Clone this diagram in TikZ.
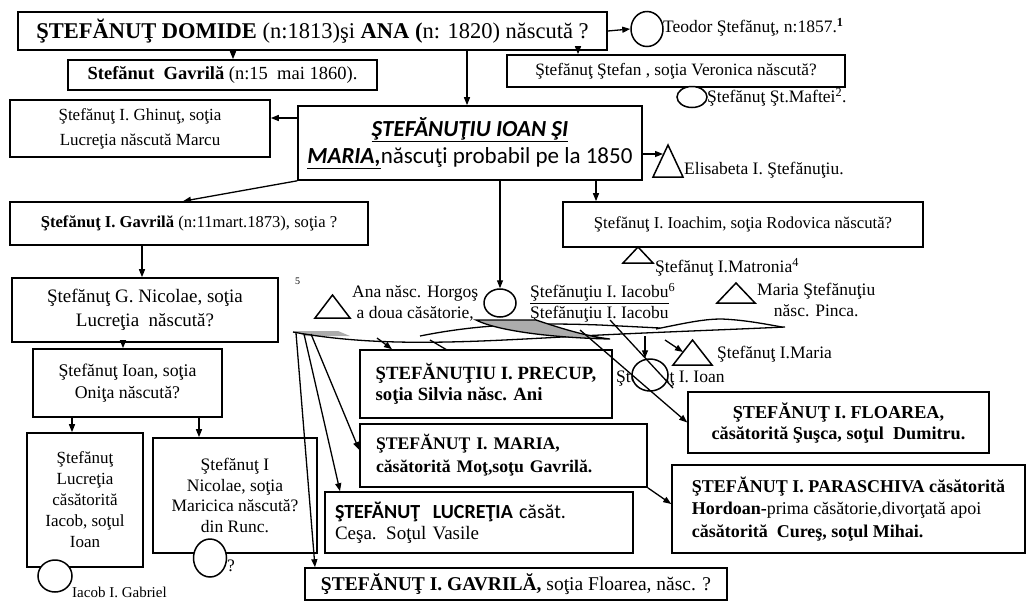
\documentclass[tikz,border=0pt]{standalone}
\usepackage{fontspec}
\setmainfont{Liberation Serif}
\newfontfamily\calib{Carlito}
\usetikzlibrary{arrows.meta,shapes.geometric,calc}
\newcommand\fsz[2]{\fontsize{#1}{#2}\selectfont}
\begin{document}
\begin{tikzpicture}[x=1pt,y=-1pt,
 bx/.style={draw,line width=1.6pt,inner sep=2pt,align=center,font=\fsz{16}{22}},
 circ/.style={draw,ellipse,line width=1.5pt,inner sep=0pt,fill=white},
 tri/.style={draw,line width=1.5pt,line join=miter},
 arr/.style={line width=1.3pt,-{Triangle[length=8pt,width=6pt]}},
 ln/.style={line width=1.3pt},
 lbl/.style={inner sep=0pt,anchor=west,font=\fsz{17.5}{21}}]
\useasboundingbox (0,0) rectangle (1027,606);
\fill[white] (0,0) rectangle (1027,606);

% ---------- boxes ----------
\node[bx,minimum width=589pt,minimum height=38pt,font=\fsz{22.5}{24}] (A) at (312.5,31)
 {\textbf{ŞTEFĂNUŢ DOMIDE} (n:1813)şi \textbf{ANA (}n: 1820) născută ?};
\node[bx,minimum width=309pt,minimum height=30pt,font=\fsz{18.5}{22}] (B) at (222.5,75)
 {\textbf{Stefănut\ \ Gavrilă} (n:15\ \ mai 1860).};
\node[bx,minimum width=338pt,minimum height=32pt,font=\fsz{17.3}{22}] (C) at (676,71)
 {Ştefănuţ Ştefan , soţia Veronica născută?};
\node[bx,minimum width=344pt,minimum height=74pt,font=\calib\fsz{23}{27}] (D) at (470,143)
 {\textbf{\textit{\underline{ŞTEFĂNUŢIU IOAN ŞI}}}\\\textbf{\textit{\underline{MARIA,}}}născuţi probabil pe la 1850};
\node[bx,minimum width=260pt,minimum height=57pt,font=\fsz{17}{25}] (E) at (140,128.5)
 {Ştefănuţ I. Ghinuţ, soţia\\Lucreţia născută Marcu};
\node[bx,minimum width=360pt,minimum height=45pt,font=\fsz{16.7}{22}] (F) at (743,224.5)
 {Ştefănuţ I. Ioachim, soţia Rodovica născută?};
\node[bx,minimum width=358pt,minimum height=43pt,font=\fsz{16.6}{22}] (G) at (189,223.5)
 {\textbf{Ştefănuţ I. Gavrilă} (n:11mart.1873), soţia ?};
\node[bx,minimum width=266pt,minimum height=64pt,font=\fsz{19}{24}] (H) at (145,310)
 {Ştefănuţ G. Nicolae, soţia\\Lucreţia\ \ născută?};
\node[bx,minimum width=189pt,minimum height=68pt,font=\fsz{17.8}{22}] (I) at (127.5,383)
 {Ştefănuţ Ioan, soţia\\Oniţa născută?};
\node[bx,minimum width=116pt,minimum height=134pt,font=\fsz{17}{21}] (J) at (85,500)
 {Ştefănuţ\\Lucreţia\\căsătorită\\Iacob, soţul\\Ioan};
\node[bx,minimum width=164pt,minimum height=115pt,font=\fsz{17.5}{20.5}] (K) at (235,495.5)
 {Ştefănuţ I\\Nicolae, soţia\\Maricica născută?\\din Runc.};
\node[bx,align=left,minimum width=252pt,minimum height=68pt,font=\bfseries\fsz{18.7}{21}] (L) at (486,384)
 {ŞTEFĂNUŢIU I. PRECUP,\\soţia Silvia născ. Ani};
\node[bx,align=left,inner xsep=16pt,text width=255pt,minimum height=63pt,font=\bfseries\fsz{17.7}{23}] (Mm) at (503.5,455.5)
 {ŞTEFĂNUŢ I. MARIA,\\căsătorită Moţ,soţu Gavrilă.};
\node[bx,align=left,inner xsep=10pt,text width=288pt,minimum height=61pt,font=\fsz{19}{21}] (Lu) at (479,522.5)
 {{\calib\fsz{20}{21}\textbf{ŞTEFĂNUŢ\ \ LUCREŢIA} căsăt.}\\Ceşa. Soţul Vasile};
\node[bx,minimum width=422pt,minimum height=32pt,font=\fsz{19.5}{22}] (N) at (516,584)
 {\textbf{ŞTEFĂNUŢ I. GAVRILĂ,} soţia Floarea, născ. ?};
\node[bx,minimum width=301pt,minimum height=61pt,font=\bfseries\fsz{18.2}{21}] (Fl) at (838.5,422.5)
 {ŞTEFĂNUŢ I. FLOAREA,\\căsătorită Şuşca, soţul\ \ Dumitru.};
\node[bx,align=left,minimum width=353pt,minimum height=88pt,font=\fsz{18}{22.5}] (P) at (848.5,509)
 {\textbf{ŞTEFĂNUŢ I. PARASCHIVA căsătorită}\\\textbf{Hordoan-}prima căsătorie,divorţată apoi\\\textbf{căsătorită\ \ Cureş, soţul Mihai.}};

% ---------- labels ----------
\node[lbl] (l1) at (663,27) {Teodor Ştefănuţ, n:1857.\textsuperscript{\textbf{1}}};
\node[lbl] (l2) at (707,97) {Ştefănuţ Şt.Maftei\textsuperscript{2}.};
\node[lbl] (l3) at (684,170) {Elisabeta I. Ştefănuţiu.};
\node[lbl] (l4) at (655,267) {Ştefănuţ I.Matronia\textsuperscript{4}};
\node[lbl,font=\fsz{10}{12}] (l5) at (295,281) {5};
\node[lbl,align=center] (l6) at (352,303) {Ana născ. Horgoş\\a doua căsătorie,};
\node[lbl,align=left] (l7) at (530,303) {\underline{Ştefănuţiu I. Iacobu}\textsuperscript{6}\\Ştefănuţiu I. Iacobu};
\node[lbl,align=center] (l8) at (757,300) {Maria Ştefănuţiu\\născ. Pinca.};
\node[lbl] (l9) at (717,354) {Ştefănuţ I.Maria};
\node[lbl] (l10) at (616,378) {Ştefănuţ I. Ioan};
\node[lbl,font=\fsz{15}{18}] (l11) at (72,592) {Iacob I. Gabriel};
\node[lbl] (l12) at (227,566) {?};

% ---------- circles ----------
\node[circ,minimum width=32pt,minimum height=35pt] (c1) at (647,29) {};
\node[circ,minimum width=30pt,minimum height=21pt] (c2) at (692,97) {};
\node[circ,minimum width=32pt,minimum height=28pt] (c3) at (500,303) {};
\node[circ,minimum width=36pt,minimum height=32pt] (c4) at (650,375) {};
\node[circ,minimum width=34pt,minimum height=32pt] (c5) at (55,576) {};
\node[circ,minimum width=33pt,minimum height=38pt] (c6) at (210,558) {};

% ---------- triangles ----------
\draw[tri] (653,177) -- (668,145) -- (683,177) -- cycle;
\draw[tri] (623,263) -- (638,247) -- (653,263) -- cycle;
\draw[tri] (315,318) -- (332.5,295) -- (350,318) -- cycle;
\draw[tri] (717,303) -- (736,283) -- (755,303) -- cycle;
\draw[tri] (673,365) -- (692.5,340) -- (712,365) -- cycle;
\coordinate (t1) at (663,154);
\coordinate (t5) at (683,352);

% ---------- helper coordinates ----------
\coordinate (xAB) at (233,0);
\coordinate (xAC) at (578,0);
\coordinate (xAD) at (467,0);
\coordinate (yDE) at (0,118);
\coordinate (xDF) at (596,0);
\coordinate (xDG) at (183,0);
\coordinate (xGH) at (142,0);
\coordinate (xHI) at (123,0);
\coordinate (xIJ) at (72,0);
\coordinate (xIK) at (199,0);
\coordinate (xN) at (315,0);
\coordinate (xLu) at (340,0);
\coordinate (yM) at (0,450);
\coordinate (xL) at (392,0);
\coordinate (yMP) at (0,504);
\coordinate (h1) at (296,333);
\coordinate (h2) at (304,334);
\coordinate (h3) at (311,334);
\coordinate (hL) at (377,338);
\coordinate (hI) at (645,336);
\coordinate (hM) at (665,340);
\coordinate (hF) at (580,330);
\coordinate (jq) at (610,320);
\coordinate (jq2) at (673,388);

% ---------- connectors ----------
\draw[arr] (A.south -| xAB) -- (B.north -| xAB);
\draw[arr] (A.south -| xAC) -- (C.north -| xAC);
\draw[arr] (A.south -| xAD) -- (D.north -| xAD);
\draw[arr] (A.east) -- (c1.west);
\draw[arr] (D.west |- yDE) -- (E.east |- yDE);
\draw[arr] (D.east |- t1) -- (t1);
\draw[arr] (D.south -| xDF) -- (F.north -| xDF);
\draw[arr] (D.south west) -- (G.north -| xDG);
\draw[arr] (D.south -| c3) -- (c3.north);
\draw[arr] (G.south -| xGH) -- (H.north -| xGH);
\draw[arr] (H.south -| xHI) -- (I.north -| xHI);
\draw[arr] (I.south -| xIJ) -- (J.north -| xIJ);
\draw[arr] (I.south -| xIK) -- (K.north -| xIK);

% ribbon (merged connectors)
\fill[gray!65] (293,331) -- (338,331) -- (350,336) -- (305,336) -- cycle;
\draw[ln] (293,332) .. controls (380,348) and (470,342) .. (580,336) .. controls (660,332) and (720,330) .. (785,327);
\draw[ln] (420,336) .. controls (470,326) and (520,322) .. (600,325) .. controls (630,326) .. (660,328);
\filldraw[ln,fill=gray!65] (476,320) -- (536,320) .. controls (560,328) and (585,336) .. (610,339) .. controls (560,338) and (500,332) .. (476,320) -- cycle;
\draw[ln] (656,329) .. controls (690,322) and (705,319) .. (722,319) .. controls (745,320) and (765,324) .. (782,327);
\draw[ln] (430,340) -- (447,350);

\draw[arr] (h1) -- (N.north -| xN);
\draw[arr] (h2) -- (Lu.north -| xLu);
\draw[arr] (h3) -- (Mm.west |- yM);
\draw[arr] (hL) -- (L.north -| xL);
\draw[arr] (hI) -- (c4.north -| hI);
\draw[arr] (hM) -- (t5);
\draw[arr] (hF) -- (Fl.west);
\draw[ln] (jq) -- (jq2);
\draw[arr] (Mm.south east) -- (P.west |- yMP);
\end{tikzpicture}
\end{document}
